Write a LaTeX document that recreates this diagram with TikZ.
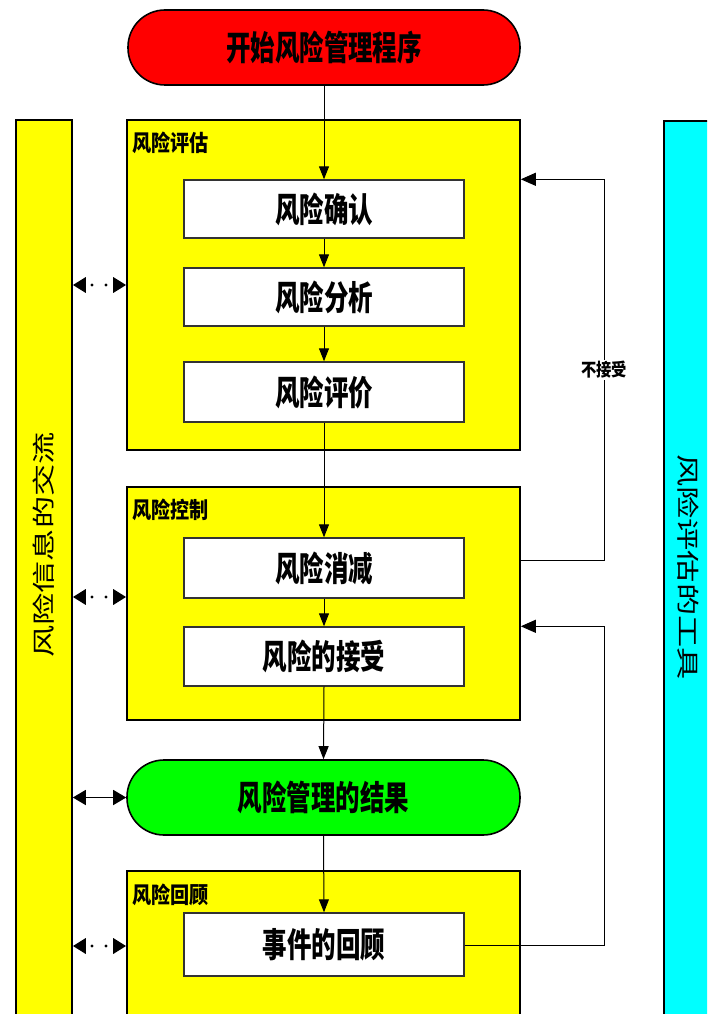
\documentclass[tikz,border=0pt]{standalone}
\usepackage{fontspec}
\usetikzlibrary{arrows.meta}
\newfontfamily\cjk[FakeStretch=0.72]{Noto Sans CJK SC}
\newfontfamily\cjkt[FakeStretch=0.85]{Noto Sans CJK SC}
\newfontfamily\cjkv[FakeStretch=1.4]{Noto Sans CJK SC}
\definecolor{ylw}{HTML}{FFFF00}
\definecolor{cyn}{HTML}{00FFFF}
\definecolor{rd}{HTML}{FF0000}
\definecolor{grn}{HTML}{00FF00}
\definecolor{dk}{HTML}{333333}
\tikzset{
  groupbox/.style={draw=black, fill=ylw, line width=1.6pt, minimum width=393pt, inner sep=0pt},
  innerbox/.style={draw=dk, fill=white, line width=1.4pt, minimum width=280pt, inner sep=0pt,
    font=\cjk\bfseries\fontsize{34}{36}\selectfont},
  pill/.style={draw=black, line width=1.6pt, minimum width=392pt, minimum height=75pt,
    rounded corners=37pt, inner sep=0pt, font=\cjk\bfseries\fontsize{34}{36}\selectfont},
  bar/.style={draw=black, line width=1.6pt, minimum width=56pt, minimum height=900pt, inner sep=0pt},
  grouptitle/.style={anchor=west, inner sep=0pt, font=\cjkt\bfseries\fontsize{22.5}{24}\selectfont},
  flow/.style={line width=1pt, -{Triangle[width=10pt,length=13pt]}},
  back/.style={line width=1pt, -{Triangle[width=13pt,length=15pt]}},
  dotlink/.style={line width=3.4pt, line cap=round, dash pattern=on 0pt off 14pt, dash phase=7pt,
    {Triangle[width=15pt,length=13pt]}-{Triangle[width=15pt,length=13pt]}},
  solidlink/.style={line width=1.4pt,
    {Triangle[width=15pt,length=13pt]}-{Triangle[width=15pt,length=13pt]}},
  vtext/.style={inner sep=0pt, font=\cjkv\fontsize{23}{25}\selectfont}
}
\begin{document}
\begin{tikzpicture}[x=1pt, y=-1pt]
\useasboundingbox (0,0) rectangle (707,1014);
\clip (0,0) rectangle (707,1014);
\fill[white] (0,0) rectangle (707,1014);

% side bars
\node[bar, fill=ylw] (leftbar) at (44,570) {};
\node[vtext, rotate=90] (lefttext) at (44,545) {风险信息的交流};
\node[bar, fill=cyn] (rightbar) at (692,571) {};
\node[vtext, rotate=-90] (righttext) at (688,567) {风险评估的工具};

% start
\node[pill, fill=rd] (start) at (324,47.5) {开始风险管理程序};

% risk assessment
\node[groupbox, minimum height=330pt] (assess) at (323.5,285) {};
\node[grouptitle] (assesst) at (132,143) {风险评估};
\node[innerbox, minimum height=58pt] (confirm) at (324,209) {风险确认};
\node[innerbox, minimum height=58pt] (analysis) at (324,297) {风险分析};
\node[innerbox, minimum height=60pt] (evaluate) at (324,392) {风险评价};

% risk control
\node[groupbox, minimum height=233pt] (control) at (323.5,603.5) {};
\node[grouptitle] (controlt) at (132,510) {风险控制};
\node[innerbox, minimum height=60pt] (reduce) at (324,568) {风险消减};
\node[innerbox, minimum height=59pt] (accept) at (324,656.5) {风险的接受};

% result
\node[pill, fill=grn, minimum width=393pt] (result) at (323.5,797.5) {风险管理的结果};

% risk review
\node[groupbox, minimum height=150pt] (review) at (323.5,946) {};
\node[grouptitle] (reviewt) at (132,895) {风险回顾};
\node[innerbox, minimum height=63pt] (event) at (324,944.5) {事件的回顾};

% main flow
\draw[flow] (start.south) -- (confirm.north);
\draw[flow] (confirm.south) -- (analysis.north);
\draw[flow] (analysis.south) -- (evaluate.north);
\draw[flow] (evaluate.south) -- (reduce.north);
\draw[flow] (reduce.south) -- (accept.north);
\draw[flow] (accept.south) -- (result.north);
\draw[flow] (result.south) -- (event.north);

% feedback loops
\coordinate (fb1) at (604,560);
\draw[back] (fb1 -| control.east) -- (fb1) |- (assess.east |- confirm.north);
\node[fill=white, inner sep=1pt, font=\cjkt\bfseries\fontsize{18}{20}\selectfont] (noacc) at (604,370) {不接受};
\coordinate (fb2) at (604,945);
\draw[back] (event.east |- fb2) -- (fb2) |- (control.east |- accept.north);

% communication links
\draw[dotlink] (assess.west -| leftbar.east) -- (assess.west);
\coordinate (cl) at (100,597);
\draw[dotlink] (cl -| leftbar.east) -- (cl -| control.west);
\draw[solidlink] (result.west -| leftbar.east) -- (result.west);
\draw[dotlink] (review.west -| leftbar.east) -- (review.west);
\end{tikzpicture}
\end{document}
